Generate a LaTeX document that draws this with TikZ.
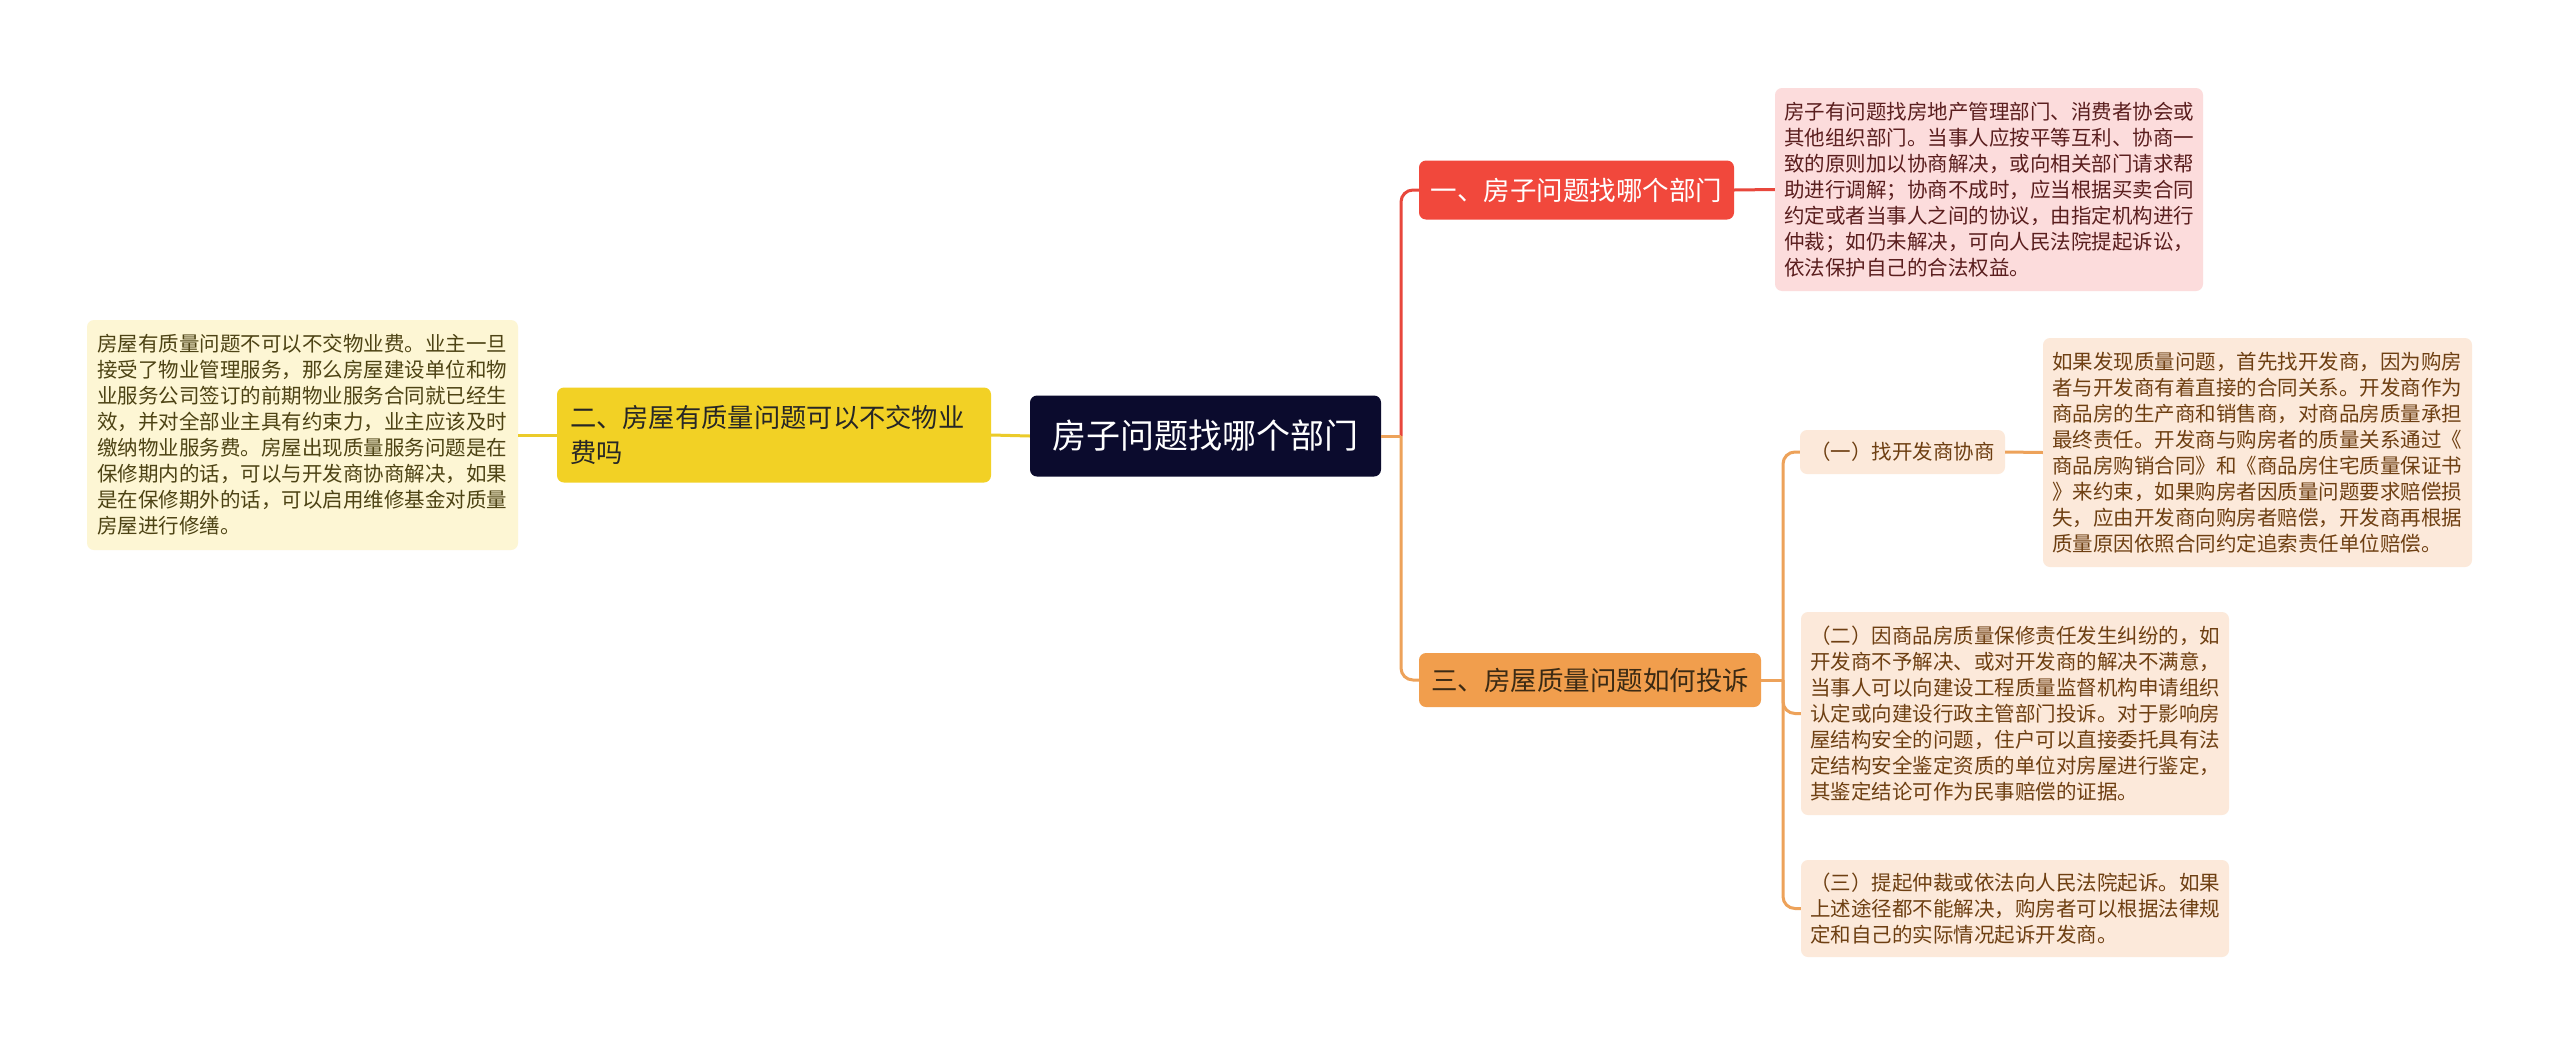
\documentclass[tikz,border=0pt]{standalone}
\usepackage{fontspec}
\setmainfont{Noto Sans CJK SC}
\definecolor{rootc}{HTML}{0B0B2D}
\definecolor{redc}{HTML}{F1483C}
\definecolor{redline}{HTML}{E8473C}
\definecolor{redlight}{HTML}{FCDCDC}
\definecolor{redtext}{HTML}{5A1E1E}
\definecolor{yelc}{HTML}{F2D125}
\definecolor{yelline}{HTML}{EBCB2A}
\definecolor{yellight}{HTML}{FDF6D4}
\definecolor{yeltext}{HTML}{4D4314}
\definecolor{orac}{HTML}{F19E4D}
\definecolor{oraline}{HTML}{EDA25A}
\definecolor{oralight}{HTML}{FCE9DA}
\definecolor{oratext}{HTML}{6E3F12}
\definecolor{oradark}{HTML}{3B2A14}
\begin{document}
\begin{tikzpicture}[x=1pt,y=-1pt,
  base/.style={rounded corners=7pt, inner ysep=0pt, anchor=center},
  detail/.style={base, text width=410pt, inner xsep=9pt, align=left, font=\fontsize{20.5}{26}\selectfont},
  titlebox/.style={base, inner xsep=0pt, align=center, font=\fontsize{26.5}{34}\selectfont},
  wire/.style={line width=3pt, rounded corners=12pt}]
\useasboundingbox[fill=white] (0,0) rectangle (2560,1047);

% root
\node[base, fill=rootc, text=white, minimum width=351pt, minimum height=81pt, inner xsep=0pt,
      font=\fontsize{34}{40}\selectfont] (root) at (1205.5,436) {房子问题找哪个部门};

% branch 1
\node[titlebox, fill=redc, text=white, minimum width=315pt, minimum height=59pt] (n1) at (1576.5,190) {一、房子问题找哪个部门};
\node[detail, fill=redlight, text=redtext, minimum height=203pt] (d1) at (1989,189.5) {房子有问题找房地产管理部门、消费者协会或\\其他组织部门。当事人应按平等互利、协商一\\致的原则加以协商解决，或向相关部门请求帮\\助进行调解；协商不成时，应当根据买卖合同\\约定或者当事人之间的协议，由指定机构进行\\仲裁；如仍未解决，可向人民法院提起诉讼，\\依法保护自己的合法权益。};

% branch 2
\node[base, fill=yelc, text=black!85, minimum height=95pt, text width=408pt, inner xsep=13pt, align=left,
      font=\fontsize{26.3}{35}\selectfont] (n2) at (774,435) {二、房屋有质量问题可以不交物业\\费吗};
\node[detail, fill=yellight, text=yeltext, minimum height=230pt, text width=411pt, inner xsep=10pt] (d2) at (302.5,435) {房屋有质量问题不可以不交物业费。业主一旦\\接受了物业管理服务，那么房屋建设单位和物\\业服务公司签订的前期物业服务合同就已经生\\效，并对全部业主具有约束力，业主应该及时\\缴纳物业服务费。房屋出现质量服务问题是在\\保修期内的话，可以与开发商协商解决，如果\\是在保修期外的话，可以启用维修基金对质量\\房屋进行修缮。};

% branch 3
\node[titlebox, fill=orac, text=oradark, minimum width=342pt, minimum height=54pt] (n3) at (1590,680) {三、房屋质量问题如何投诉};
\node[base, fill=oralight, text=oratext, minimum width=205pt, minimum height=44pt, inner xsep=0pt,
      font=\fontsize{20.5}{26}\selectfont] (c1) at (1902.5,452) {（一）找开发商协商};
\node[detail, fill=oralight, text=oratext, minimum height=229pt, text width=411pt, inner xsep=9pt] (c1d) at (2257.5,452.5) {如果发现质量问题，首先找开发商，因为购房\\者与开发商有着直接的合同关系。开发商作为\\商品房的生产商和销售商，对商品房质量承担\\最终责任。开发商与购房者的质量关系通过《\\商品房购销合同》和《商品房住宅质量保证书\\》来约束，如果购房者因质量问题要求赔偿损\\失，应由开发商向购房者赔偿，开发商再根据\\质量原因依照合同约定追索责任单位赔偿。};
\node[detail, fill=oralight, text=oratext, minimum height=203pt] (c2) at (2015,713.5) {（二）因商品房质量保修责任发生纠纷的，如\\开发商不予解决、或对开发商的解决不满意，\\当事人可以向建设工程质量监督机构申请组织\\认定或向建设行政主管部门投诉。对于影响房\\屋结构安全的问题，住户可以直接委托具有法\\定结构安全鉴定资质的单位对房屋进行鉴定，\\其鉴定结论可作为民事赔偿的证据。};
\node[detail, fill=oralight, text=oratext, minimum height=97pt] (c3) at (2015,908.5) {（三）提起仲裁或依法向人民法院起诉。如果\\上述途径都不能解决，购房者可以根据法律规\\定和自己的实际情况起诉开发商。};

% junctions
\coordinate (j1) at (1401,436);
\coordinate (j3) at (1783,680);

% connectors
\draw[wire, redline] (j1) |- (n1.west);
\draw[wire, oraline] (j1) |- (n3.west);
\draw[wire, oraline] (root.east) -- (j1);
\draw[wire, redline] (n1.east) -- (d1.west);
\draw[wire, yelline] (root.west) -- (n2.east);
\draw[wire, yelline] (n2.west) -- (d2.east);
\draw[wire, oraline] (n3.east) -- (j3);
\draw[wire, oraline] (j3) |- (c1.west);
\draw[wire, oraline] (j3) |- (c2.west);
\draw[wire, oraline] (j3) |- (c3.west);
\draw[wire, oraline] (c1.east) -- (c1d.west);
\end{tikzpicture}
\end{document}
